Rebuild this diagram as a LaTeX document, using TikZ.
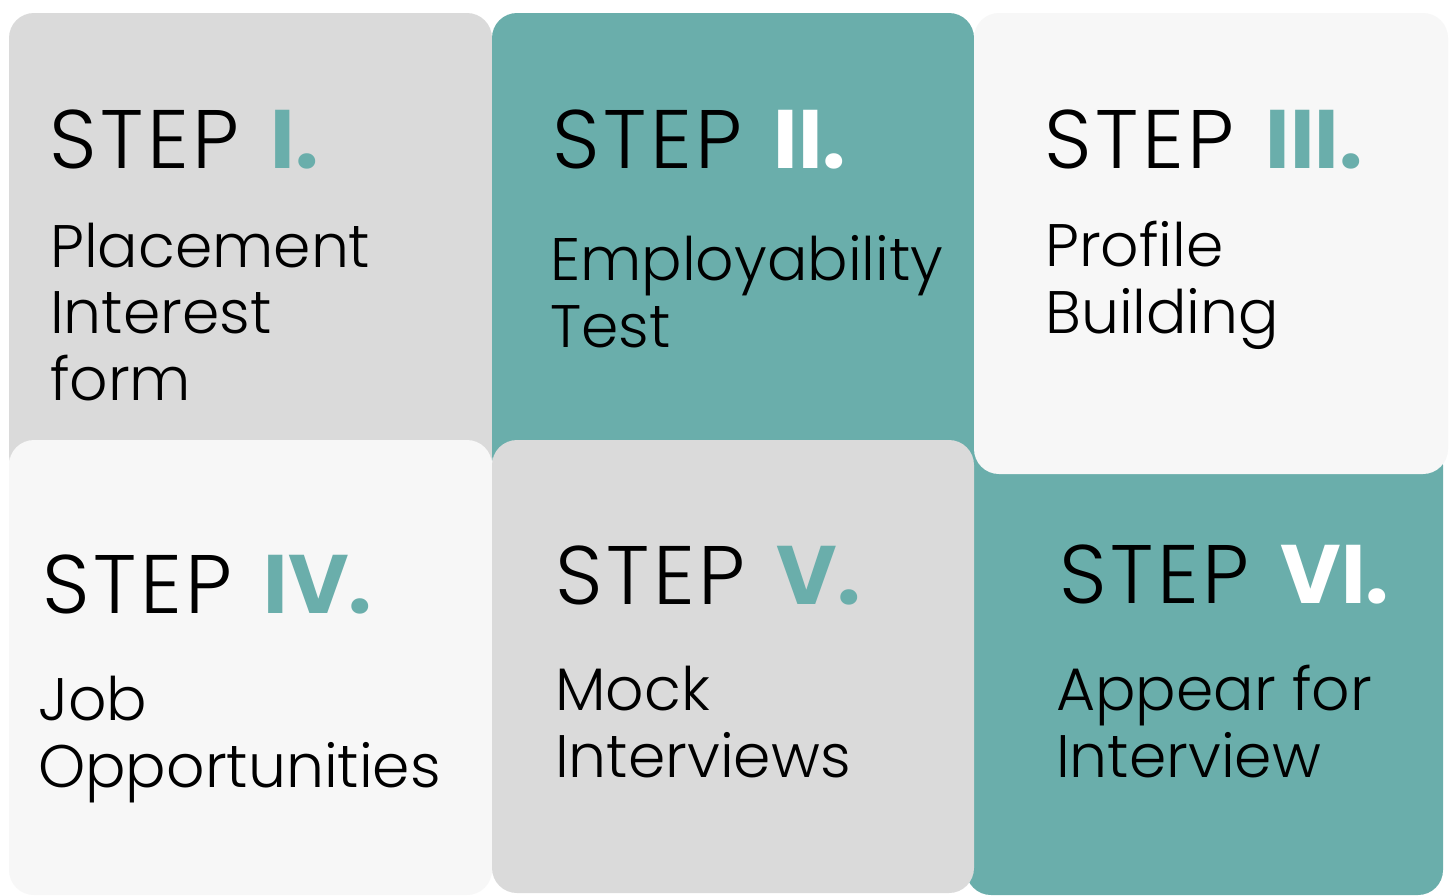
\documentclass[tikz,border=0pt]{standalone}
\usepackage{fontspec}
\setmainfont{Poppins}[UprightFont=* Light, BoldFont=* SemiBold]
\newfontfamily\stepfont{Poppins}[UprightFont=* Light, LetterSpace=4.5]
\newfontfamily\numfont{Poppins}[UprightFont=* Bold]
\definecolor{tealc}{HTML}{6AAEAB}
\definecolor{grayc}{HTML}{DADADA}
\definecolor{lightc}{HTML}{F7F7F7}
\begin{document}
\begin{tikzpicture}[x=1pt,y=-1pt,
  tile/.style={rounded corners=25pt},
  steplab/.style={anchor=base west, inner sep=0pt, font=\stepfont\fontsize{83}{90}\selectfont},
  bodylab/.style={anchor=base west, inner sep=0pt, align=left, font=\fontsize{60}{66.5}\selectfont}]
\newcommand\stepnum[2]{\hspace{31pt}\textcolor{#1}{\numfont #2}}
\useasboundingbox (0,0) rectangle (1449,895);
\fill[white] (0,0) rectangle (1449,895);
% tiles
\fill[grayc,tile] (9,13) rectangle (492,480);
\fill[tealc,tile] (492,13) rectangle (974,480);
\fill[tealc,tile] (966,440) rectangle (1443,895);
\fill[lightc,tile] (974,13) rectangle (1448,474);
\fill[lightc,tile] (9,440) rectangle (492,895);
\fill[grayc,tile] (492,440) rectangle (974,893);
% texts
\node[steplab] (s1) at (49,168) {STEP\stepnum{tealc}{I.}};
\node[bodylab] (b1) at (50,400) {Placement\\Interest\\form};
\node[steplab] (s2) at (552,168) {STEP\stepnum{white}{II.}};
\node[bodylab] (b2) at (550,347) {Employability\\Test};
\node[steplab] (s3) at (1044,168) {STEP\stepnum{tealc}{III.}};
\node[bodylab] (b3) at (1045,333) {Profile\\Building};
\node[steplab] (s4) at (42,613) {STEP\stepnum{tealc}{IV.}};
\node[bodylab] (b4) at (38,787) {Job\\Opportunities};
\node[steplab] (s5) at (555,604) {STEP\stepnum{tealc}{V.}};
\node[bodylab] (b5) at (555,777) {Mock\\Interviews};
\node[steplab] (s6) at (1059,603) {STEP\stepnum{white}{VI.}};
\node[bodylab] (b6) at (1056,777) {Appear for\\Interview};
\end{tikzpicture}
\end{document}
